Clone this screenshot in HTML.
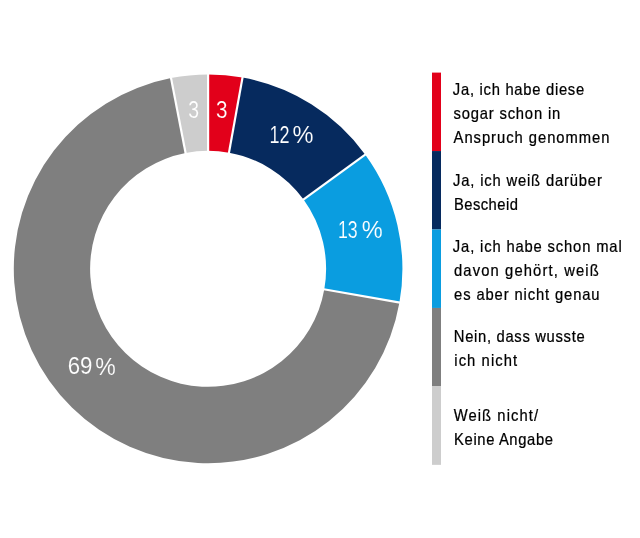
<!DOCTYPE html>
<html><head><meta charset="utf-8"><style>
html,body{margin:0;padding:0;background:#fff;width:640px;height:538px;overflow:hidden}
svg{display:block;will-change:transform}
.lab{font-family:"Liberation Sans",sans-serif;fill:#fff}
.leg{font-family:"Liberation Sans",sans-serif;font-size:16.4px;fill:#000;stroke:#000;stroke-width:0.25px}
</style></head><body>
<svg width="640" height="538" viewBox="0 0 640 538">
<rect width="640" height="538" fill="#fff"/>
<path d="M208.10,74.55 A194.3,194.3 0 0 1 242.51,77.62 L229.00,152.71 A118.0,118.0 0 0 0 208.10,150.85 Z" fill="#e2001a"/><path d="M242.51,77.62 A194.3,194.3 0 0 1 365.29,154.64 L303.56,199.49 A118.0,118.0 0 0 0 229.00,152.71 Z" fill="#062a5e"/><path d="M365.29,154.64 A194.3,194.3 0 0 1 399.45,302.59 L324.31,289.34 A118.0,118.0 0 0 0 303.56,199.49 Z" fill="#0a9de0"/><path d="M399.45,302.59 A194.3,194.3 0 1 1 171.03,78.12 L185.58,153.02 A118.0,118.0 0 1 0 324.31,289.34 Z" fill="#7f7f7f"/><path d="M171.03,78.12 A194.3,194.3 0 0 1 208.10,74.55 L208.10,150.85 A118.0,118.0 0 0 0 185.58,153.02 Z" fill="#cdcdcd"/>
<line x1="208.10" y1="152.85" x2="208.10" y2="72.55" stroke="#fff" stroke-width="2.2"/><line x1="228.64" y1="154.68" x2="242.86" y2="75.65" stroke="#fff" stroke-width="2.2"/><line x1="301.95" y1="200.67" x2="366.91" y2="153.47" stroke="#fff" stroke-width="2.2"/><line x1="322.34" y1="288.99" x2="401.42" y2="302.94" stroke="#fff" stroke-width="2.2"/><line x1="185.97" y1="154.98" x2="170.64" y2="76.16" stroke="#fff" stroke-width="2.2"/>
<text transform="translate(188.16,117.87) scale(0.8377,1)" font-size="23.16" class="lab" stroke="#cdcdcd" stroke-width="0.15">3</text><text transform="translate(215.91,118.17) scale(0.8763,1)" font-size="23.59" class="lab" stroke="#e2001a" stroke-width="0.15">3</text><text transform="translate(269.42,143.20) scale(0.7734,1)" font-size="23.34" class="lab" stroke="#062a5e" stroke-width="0.15">12</text><text transform="translate(292.56,143.06) scale(1.0130,1)" font-size="23.30" class="lab" stroke="#062a5e" stroke-width="0.15">%</text><text transform="translate(337.95,238.37) scale(0.7566,1)" font-size="23.45" class="lab" stroke="#0a9de0" stroke-width="0.15">13</text><text transform="translate(361.66,238.46) scale(0.9947,1)" font-size="23.72" class="lab" stroke="#0a9de0" stroke-width="0.15">%</text><text transform="translate(67.67,374.46) scale(0.9206,1)" font-size="24.15" class="lab" stroke="#7f7f7f" stroke-width="0.15">69</text><text transform="translate(95.28,374.56) scale(0.9456,1)" font-size="24.44" class="lab" stroke="#7f7f7f" stroke-width="0.15">%</text>
<rect x="432" y="72.60" width="9" height="78.45" fill="#e2001a"/><rect x="432" y="151.05" width="9" height="78.45" fill="#062a5e"/><rect x="432" y="229.50" width="9" height="78.45" fill="#0a9de0"/><rect x="432" y="307.95" width="9" height="78.45" fill="#7f7f7f"/><rect x="432" y="386.40" width="9" height="78.45" fill="#cdcdcd"/>
<text transform="translate(452.87,94.80) scale(0.9,1)" textLength="145.87" lengthAdjust="spacing" class="leg">Ja, ich habe diese</text><text transform="translate(453.44,118.75) scale(0.9,1)" textLength="118.63" lengthAdjust="spacing" class="leg">sogar schon in</text><text transform="translate(453.57,143.00) scale(0.9,1)" textLength="173.21" lengthAdjust="spacing" class="leg">Anspruch genommen</text><text transform="translate(453.02,185.90) scale(0.9,1)" textLength="165.36" lengthAdjust="spacing" class="leg">Ja, ich weiß darüber</text><text transform="translate(454.09,209.80) scale(0.9,1)" textLength="70.85" lengthAdjust="spacing" class="leg">Bescheid</text><text transform="translate(452.87,252.10) scale(0.9,1)" textLength="187.58" lengthAdjust="spacing" class="leg">Ja, ich habe schon mal</text><text transform="translate(453.98,275.90) scale(0.9,1)" textLength="160.81" lengthAdjust="spacing" class="leg">davon gehört, weiß</text><text transform="translate(454.07,299.60) scale(0.9,1)" textLength="161.67" lengthAdjust="spacing" class="leg">es aber nicht genau</text><text transform="translate(453.79,342.00) scale(0.9,1)" textLength="145.41" lengthAdjust="spacing" class="leg">Nein, dass wusste</text><text transform="translate(454.31,366.40) scale(0.9,1)" textLength="69.77" lengthAdjust="spacing" class="leg">ich nicht</text><text transform="translate(453.74,420.50) scale(0.9,1)" textLength="93.63" lengthAdjust="spacing" class="leg">Weiß nicht/</text><text transform="translate(454.09,444.90) scale(0.9,1)" textLength="109.85" lengthAdjust="spacing" class="leg">Keine Angabe</text>
</svg>
</body></html>
